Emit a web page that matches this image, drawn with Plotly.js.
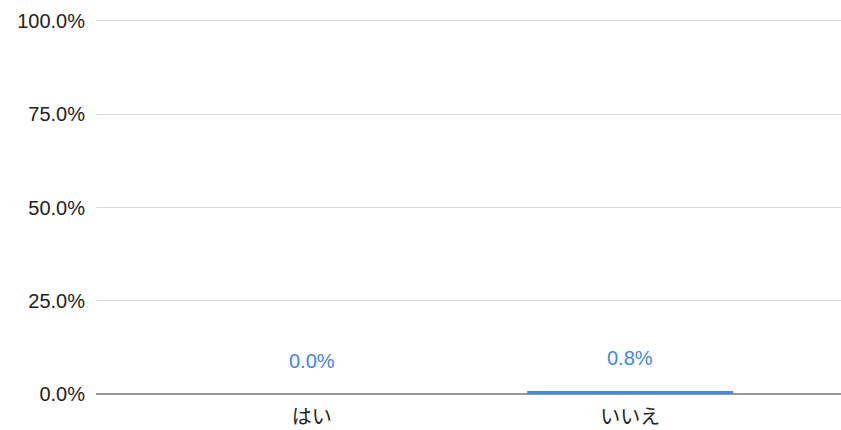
<!DOCTYPE html>
<html>
<head>
<meta charset="utf-8">
<script src="https://cdn.plot.ly/plotly-3.0.1.min.js"></script>
<style>html,body{margin:0;padding:0;background:#fff;}#chart{width:841px;height:430px;}</style>
</head>
<body>
<div id="chart"></div>
<script>
const categories = ["はい", "いいえ"];
const values = [0.0, 0.008];
const valueLabels = ["0.0%", "0.8%"];
const yTickValues = [0, 0.25, 0.5, 0.75, 1.0];
const yTickLabels = ["0.0%", "25.0%", "50.0%", "75.0%", "100.0%"];

const barColor = "#4285F4";
const fontFamily = "Arial, 'Liberation Sans', 'Noto Sans CJK JP', sans-serif";

const trace = {
  type: "bar",
  x: categories,
  y: values,
  marker: {color: barColor},
  width: 0.647,
  hoverinfo: "none"
};

const annotations = categories.map((c, i) => ({
  x: c,
  y: values[i],
  xref: "x",
  yref: "y",
  text: valueLabels[i],
  showarrow: false,
  yanchor: "middle",
  yshift: 33,
  font: {family: fontFamily, size: 20, color: barColor}
}));

const layout = {
  width: 841,
  height: 430,
  margin: {l: 96, r: 0, t: 17, b: 36},
  paper_bgcolor: "#ffffff",
  plot_bgcolor: "#ffffff",
  showlegend: false,
  font: {family: fontFamily, size: 20, color: "#222222"},
  xaxis: {
    type: "category",
    range: [-0.677, 1.662],
    showgrid: false,
    showline: false,
    zeroline: false,
    ticks: "",
    ticklabelstandoff: 9,
    tickfont: {family: "'Noto Sans CJK JP', sans-serif", size: 20, color: "#222222"},
    fixedrange: true
  },
  yaxis: {
    range: [0, 1.0107],
    tickvals: yTickValues,
    ticktext: yTickLabels,
    showgrid: true,
    gridcolor: "#dadada",
    gridwidth: 1,
    zeroline: true,
    zerolinecolor: "#999999",
    zerolinewidth: 2,
    showline: false,
    ticks: "",
    ticklabelstandoff: 10,
    tickfont: {family: fontFamily, size: 20, color: "#222222"},
    fixedrange: true
  },
  annotations: annotations
};

Plotly.newPlot("chart", [trace], layout, {displayModeBar: false, staticPlot: true});
</script>
</body>
</html>
